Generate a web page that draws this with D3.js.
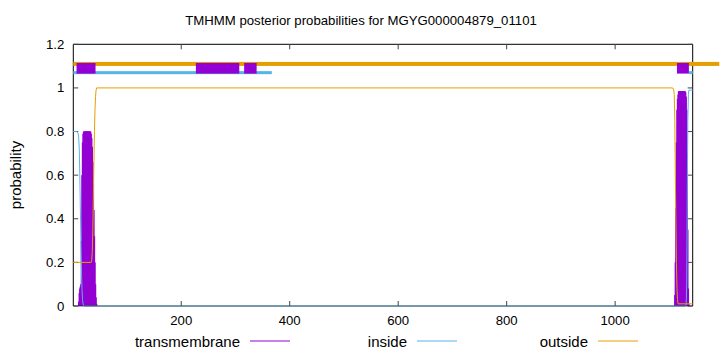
<!DOCTYPE html>
<html>
<head>
<meta charset="utf-8">
<script src="https://cdn.jsdelivr.net/npm/d3@7"></script>
<style>
  html, body { margin: 0; padding: 0; background: #fff; }
  svg text { font-family: "Liberation Sans", Arial, sans-serif; fill: #000; }
</style>
</head>
<body>
<svg id="chart" width="720" height="352"></svg>
<script>
// ---------------- data ----------------
const titleText = "TMHMM posterior probabilities for MGYG000004879_01101";
const seqLength = 1143;
const xTicks = [200, 400, 600, 800, 1000];
const yTicks = [0, 0.2, 0.4, 0.6, 0.8, 1, 1.2];
const yTickLabels = ["0", "0.2", "0.4", "0.6", "0.8", "1", "1.2"];

// transmembrane posterior (impulses)
const tmPos = [12,13,14,15,16,17,18,19,20,21,22,23,24,25,26,27,28,29,30,31,32,33,34,35,36,37,38,39,40,41,42,43,
               1111,1112,1113,1114,1115,1116,1117,1118,1119,1120,1121,1122,1123,1124,1125,1126,1127,1128,1129,1130,1131,1132,1133,1134,1135];
const tmVal = [0.02,0.06,0.08,0.09,0.1,0.3,0.6,0.75,0.79,0.8,0.8,0.8,0.8,0.8,0.8,0.8,0.8,0.8,0.8,0.8,0.8,0.79,0.77,0.73,0.66,0.56,0.44,0.32,0.2,0.1,0.04,0.01,
               0.05,0.2,0.45,0.75,0.9,0.95,0.97,0.985,0.985,0.985,0.985,0.985,0.985,0.985,0.985,0.985,0.985,0.985,0.98,0.96,0.9,0.7,0.35,0.08,0.01];

// inside posterior
const insidePos = [1,8,10,11,12,13,14,15,16,17,18,19,20,1130,1131,1132,1133,1134,1135,1136,1143];
const insideVal = [0.8,0.8,0.79,0.77,0.72,0.6,0.45,0.3,0.17,0.08,0.03,0.01,0,0,0.01,0.1,0.5,0.85,0.97,0.99,0.99];

// outside posterior
const outsidePos = [1,34,35,36,37,38,39,40,41,42,43,44,1106,1108,1109,1110,1111,1112,1113,1114,1115,1116,1143];
const outsideVal = [0.2,0.2,0.21,0.25,0.35,0.5,0.66,0.8,0.9,0.96,0.99,1,1,0.99,0.97,0.85,0.6,0.4,0.2,0.08,0.03,0.01,0.01];

// predicted topology strips [start, end]
const stripOutside = [[1, 1192]];
const stripInside = [[1, 367], [1136, 1143]];
const stripTM = [[7, 42], [227, 307], [316, 339], [1114, 1136]];
const stripLevels = { outside: 1.11, tm: 1.09, inside: 1.07 };

const legendNames = ["transmembrane", "inside", "outside"];
const colors = { tm: "#9400d3", inside: "#56b4e9", outside: "#e69f00" };

// ---------------- drawing ----------------
const svg = d3.select("#chart");
const x = d3.scaleLinear().domain([1, seqLength]).range([73.3, 692.7]);
const y = d3.scaleLinear().domain([0, 1.2]).range([306, 44.3]);

// title
svg.append("text").attr("x", 361).attr("y", 25).attr("text-anchor", "middle")
  .style("font-size", "13.2px").text(titleText);

// y label
svg.append("text").attr("transform", "translate(21,175) rotate(-90)")
  .attr("text-anchor", "middle").style("font-size", "15px").text("probability");

const x0 = x.range()[0], x1 = x.range()[1], yb = y.range()[0], yt = y.range()[1];

// frame (left/top/right)
svg.append("path").attr("d", `M${x0},${yb}V${yt}H${x1}V${yb}`)
  .attr("fill", "none").attr("stroke", "#000").attr("stroke-width", 1);

// ticks
const tl = 5;
yTicks.forEach((t, i) => {
  svg.append("line").attr("x1", x0).attr("x2", x0 + tl).attr("y1", y(t)).attr("y2", y(t)).attr("stroke", "#444");
  svg.append("line").attr("x1", x1).attr("x2", x1 - tl).attr("y1", y(t)).attr("y2", y(t)).attr("stroke", "#444");
  svg.append("text").attr("x", x0 - 9).attr("y", y(t) + 4.5).attr("text-anchor", "end")
    .style("font-size", "13.2px").text(yTickLabels[i]);
});
xTicks.forEach(t => {
  svg.append("line").attr("x1", x(t)).attr("x2", x(t)).attr("y1", yb).attr("y2", yb - tl).attr("stroke", "#444");
  svg.append("line").attr("x1", x(t)).attr("x2", x(t)).attr("y1", yt).attr("y2", yt + tl).attr("stroke", "#444");
  svg.append("text").attr("x", x(t)).attr("y", yb + 19).attr("text-anchor", "middle")
    .style("font-size", "13.2px").text(String(t));
});

// strips
const stripG = svg.append("g");
stripOutside.forEach(s => {
  stripG.append("rect").attr("x", x(s[0])).attr("width", x(s[1]) - x(s[0]))
    .attr("y", y(stripLevels.outside) - 2).attr("height", 4).attr("fill", colors.outside);
});
stripInside.forEach(s => {
  stripG.append("rect").attr("x", x(s[0])).attr("width", x(s[1]) - x(s[0]))
    .attr("y", y(stripLevels.inside) - 1.5).attr("height", 3).attr("fill", colors.inside);
});
stripTM.forEach(s => {
  stripG.append("rect").attr("x", x(s[0])).attr("width", x(s[1]) - x(s[0]))
    .attr("y", y(stripLevels.tm) - 5.3).attr("height", 10.6).attr("fill", colors.tm);
});

// curves
const line = d3.line().x(d => x(d[0])).y(d => y(d[1]));
const insideData = insidePos.map((p, i) => [p, insideVal[i]]);
const outsideData = outsidePos.map((p, i) => [p, outsideVal[i]]);

svg.append("g").selectAll("line").data(tmPos.map((p, i) => [p, tmVal[i]])).join("line")
  .attr("x1", d => x(d[0])).attr("x2", d => x(d[0]))
  .attr("y1", y(0)).attr("y2", d => y(d[1]))
  .attr("stroke", colors.tm).attr("stroke-width", 2.5);

svg.append("path").datum(insideData).attr("d", line).attr("fill", "none")
  .attr("stroke", colors.inside).attr("stroke-width", 1);
svg.append("path").datum(outsideData).attr("d", line).attr("fill", "none")
  .attr("stroke", colors.outside).attr("stroke-width", 1);

// bottom axis line blended over the inside curve's zero segment
svg.append("line").attr("x1", x0).attr("x2", x1).attr("y1", yb).attr("y2", yb)
  .attr("stroke", "#000").attr("stroke-opacity", 0.6).attr("stroke-width", 1);

// legend
const legendTextEnd = [240, 407, 588];
legendNames.forEach((n, i) => {
  const key = ["tm", "inside", "outside"][i];
  svg.append("text").attr("x", legendTextEnd[i]).attr("y", 346.5).attr("text-anchor", "end")
    .style("font-size", "15px").text(n);
  svg.append("line").attr("x1", legendTextEnd[i] + 10).attr("x2", legendTextEnd[i] + 50)
    .attr("y1", 341).attr("y2", 341).attr("stroke", colors[key]).attr("stroke-width", 1);
});
</script>
</body>
</html>
